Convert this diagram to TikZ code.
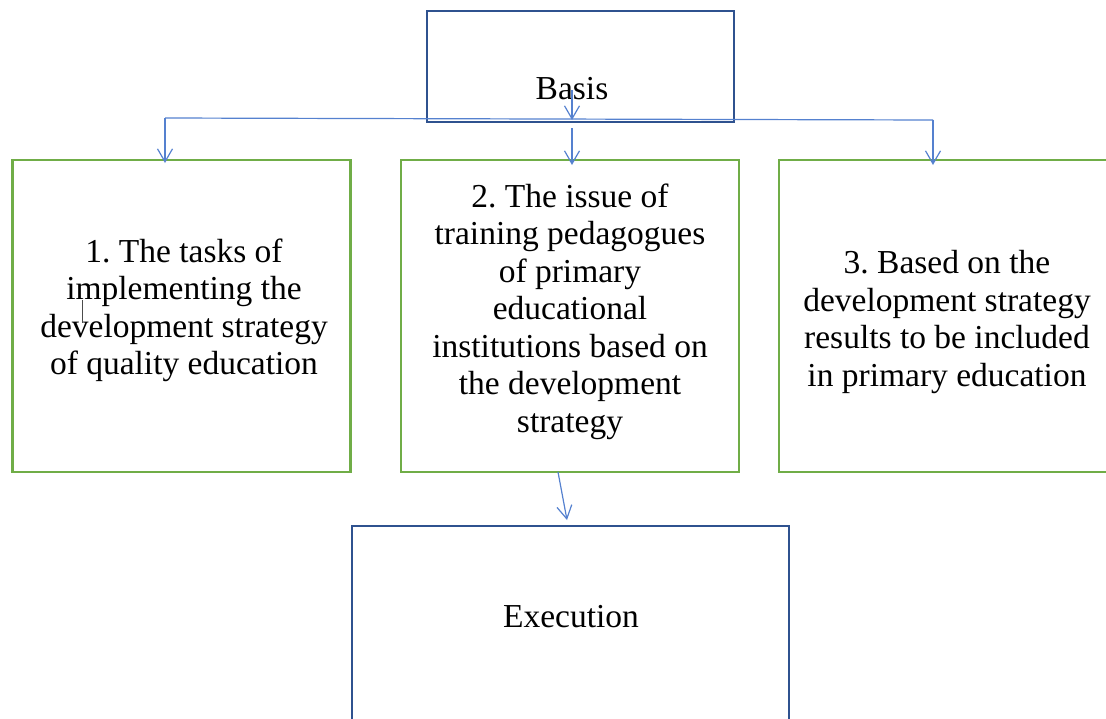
\documentclass[tikz,border=0pt]{standalone}
\usepackage{fontspec}
\setmainfont{Liberation Serif}
\usetikzlibrary{arrows.meta}
\definecolor{boxblue}{HTML}{2F528F}
\definecolor{boxgreen}{HTML}{70AD47}
\definecolor{connblue}{HTML}{5581CF}
\tikzset{
  bluebox/.style={draw=boxblue, line width=2.4pt, rectangle, inner sep=0pt},
  greenbox/.style={draw=boxgreen, line width=2.4pt, rectangle, inner sep=0pt, minimum width=338pt, minimum height=312pt},
  lbl/.style={align=center, inner sep=0pt, font={\frenchspacing\fontsize{33.5}{37.5}\selectfont}},
  conn/.style={draw=connblue, line width=1.2pt, -{Straight Barb[length=13pt,width=15pt,line width=1.2pt]}},
  plain/.style={draw=connblue, line width=1.2pt}
}
\begin{document}
\begin{tikzpicture}[x=1pt,y=-1pt]
\useasboundingbox (0,0) rectangle (1106,718);

% boxes
\node[bluebox, minimum width=307pt, minimum height=111pt] (basis) at (580.5,66.5) {};
\node[lbl] (basislbl) at (572,89) {Basis};

\node[greenbox] (b1) at (181.5,316) {};
\node[greenbox] (b2) at (570,316) {};
\node[greenbox] (b3) at (948,316) {};

\node[lbl] (t1) at (184,310.5) {1. The tasks of\\implementing the\\development strategy\\of quality education};
\node[lbl] (t2) at (570,311.5) {2. The issue of\\training pedagogues\\of primary\\educational\\institutions based on\\the development\\strategy};
\node[lbl] (t3) at (947,322) {3. Based on the\\development strategy\\results to be included\\in primary education};

\node[bluebox, minimum width=437pt, minimum height=210pt] (exec) at (570.5,631) {};
\node[lbl] (execlbl) at (571,617) {Execution};

% junction coordinates
\coordinate (s0) at (572,90);
\coordinate (jm) at (572,120);
\coordinate (jl) at (165,118);
\coordinate (jr) at (933,120);
\coordinate (m2) at (572,128);
\coordinate (e1) at (558,472);
\coordinate (e2) at (567,520);

% connectors
\draw[plain] (jl) -- (jr);
\draw[conn] (s0) -- (jm);
\draw[conn] (m2) -- (572,165);
\draw[conn] (jl) -- (165,163);
\draw[conn] (jr) -- (933,165);
\draw[conn] (e1) -- (e2);

% text cursor mark
\draw[black!70, line width=0.8pt] (82,300) -- (82,323);
\end{tikzpicture}
\end{document}
